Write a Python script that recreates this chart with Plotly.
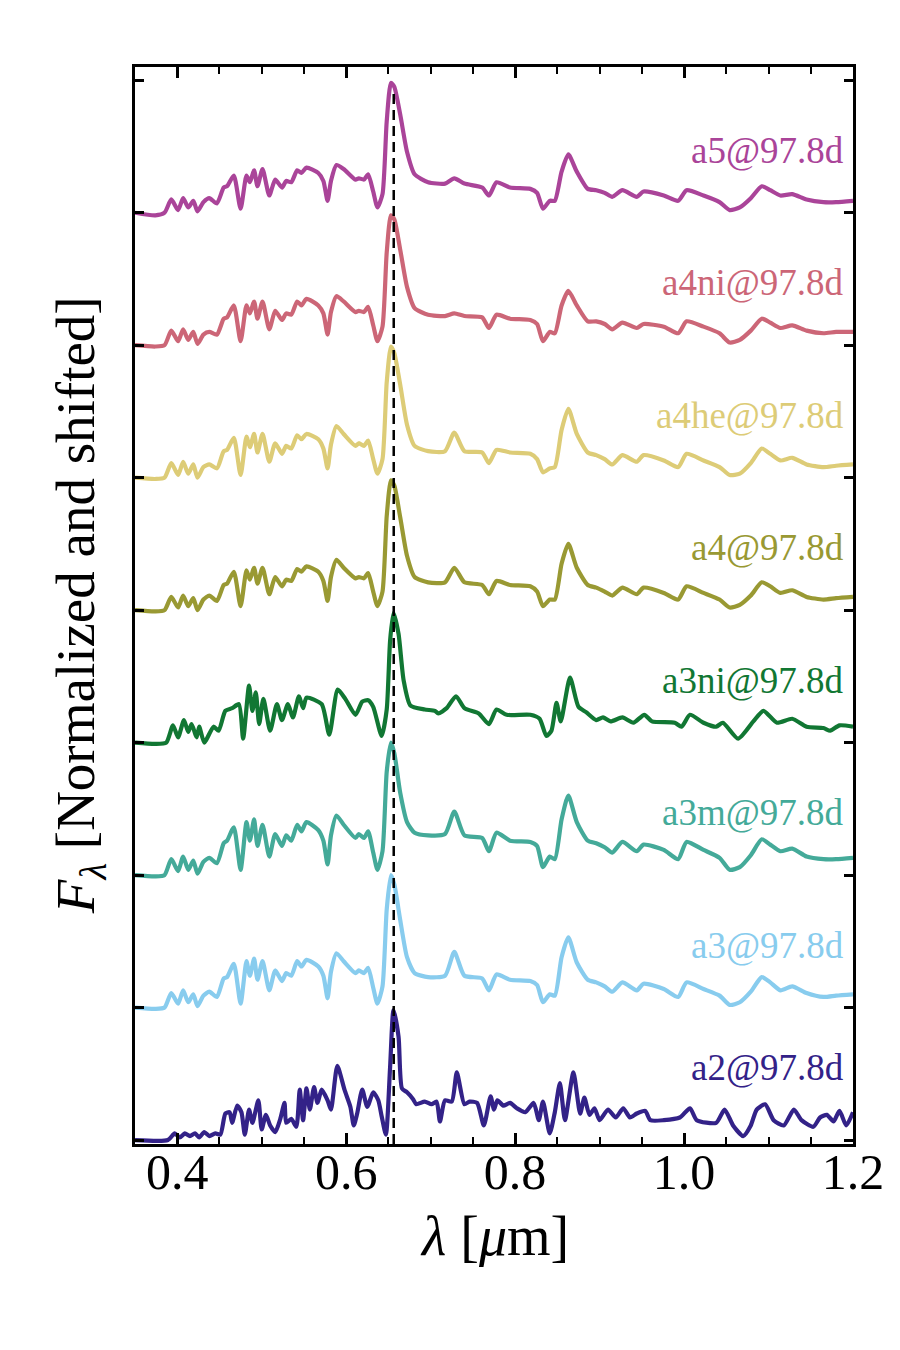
import plotly.graph_objects as go

# ---------------- data ----------------
names = ["a2", "a3", "a3m", "a3ni", "a4", "a4he", "a4ni", "a5"]
colors = ["#332288", "#88CCEE", "#44AA99", "#117733", "#999933", "#DDCC77", "#CC6677", "#AA4499"]
epoch = "97.8d"
halpha = 0.6563

# shared wavelength grid (micron) for the smoother models
lam = [0.350, 0.374, 0.385, 0.393, 0.401, 0.407, 0.413, 0.419, 0.424, 0.431,
       0.438, 0.447, 0.455, 0.459, 0.467, 0.475, 0.482, 0.486, 0.491, 0.495,
       0.501, 0.509, 0.516, 0.524, 0.529, 0.535, 0.542, 0.547, 0.553, 0.567,
       0.573, 0.578, 0.582, 0.5885, 0.597, 0.611, 0.615, 0.621, 0.626, 0.632,
       0.637, 0.643, 0.648, 0.653, 0.657, 0.664, 0.672, 0.681, 0.697, 0.717,
       0.728, 0.740, 0.761, 0.769, 0.778, 0.794, 0.818, 0.826, 0.833, 0.841,
       0.847, 0.855, 0.863, 0.873, 0.886, 0.896, 0.906, 0.915, 0.927, 0.944,
       0.952, 0.976, 0.993, 1.003, 1.023, 1.042, 1.054, 1.066, 1.079, 1.092,
       1.102, 1.114, 1.128, 1.145, 1.165, 1.180, 1.200]

a5 = [0.00, -0.02, 0.00, 0.10, 0.02, 0.11, 0.04, 0.09, 0.01, 0.08,
      0.11, 0.07, 0.19, 0.20, 0.28, 0.03, 0.28, 0.23, 0.32, 0.20,
      0.33, 0.13, 0.25, 0.19, 0.24, 0.23, 0.32, 0.30, 0.34, 0.30,
      0.24, 0.09, 0.24, 0.36, 0.33, 0.25, 0.26, 0.25, 0.29, 0.16,
      0.04, 0.14, 0.69, 0.98, 0.95, 0.74, 0.46, 0.29, 0.23, 0.22,
      0.26, 0.22, 0.19, 0.13, 0.23, 0.19, 0.18, 0.15, 0.03, 0.09,
      0.09, 0.31, 0.44, 0.31, 0.18, 0.17, 0.15, 0.12, 0.17, 0.12,
      0.16, 0.13, 0.09, 0.17, 0.13, 0.08, 0.02, 0.04, 0.11, 0.20,
      0.17, 0.13, 0.14, 0.10, 0.08, 0.08, 0.09]

a4ni = [0.00, -0.01, 0.00, 0.11, 0.03, 0.12, 0.04, 0.10, 0.01, 0.08,
        0.10, 0.08, 0.20, 0.21, 0.30, 0.03, 0.30, 0.24, 0.33, 0.20,
        0.33, 0.12, 0.26, 0.19, 0.24, 0.23, 0.33, 0.30, 0.35, 0.30,
        0.24, 0.08, 0.25, 0.37, 0.33, 0.25, 0.26, 0.25, 0.29, 0.15,
        0.03, 0.14, 0.70, 0.98, 0.95, 0.72, 0.44, 0.28, 0.23, 0.22,
        0.24, 0.22, 0.21, 0.13, 0.23, 0.20, 0.19, 0.16, 0.03, 0.10,
        0.09, 0.30, 0.41, 0.30, 0.18, 0.18, 0.16, 0.12, 0.17, 0.13,
        0.16, 0.14, 0.09, 0.18, 0.14, 0.09, 0.02, 0.04, 0.11, 0.20,
        0.17, 0.13, 0.15, 0.11, 0.09, 0.10, 0.10]

a4he = [0.00, -0.01, 0.00, 0.11, 0.02, 0.12, 0.03, 0.10, 0.00, 0.08,
        0.10, 0.07, 0.20, 0.21, 0.30, 0.02, 0.31, 0.23, 0.33, 0.19,
        0.33, 0.12, 0.26, 0.18, 0.24, 0.22, 0.32, 0.29, 0.33, 0.29,
        0.22, 0.07, 0.25, 0.39, 0.33, 0.24, 0.26, 0.24, 0.28, 0.14,
        0.03, 0.14, 0.72, 0.99, 0.94, 0.70, 0.40, 0.24, 0.20, 0.20,
        0.34, 0.20, 0.19, 0.11, 0.21, 0.19, 0.18, 0.14, 0.04, 0.07,
        0.08, 0.36, 0.52, 0.33, 0.19, 0.17, 0.14, 0.10, 0.17, 0.12,
        0.17, 0.13, 0.08, 0.18, 0.13, 0.08, 0.02, 0.03, 0.11, 0.22,
        0.18, 0.13, 0.15, 0.10, 0.08, 0.09, 0.10]

a4 = [0.00, -0.01, 0.00, 0.10, 0.02, 0.11, 0.03, 0.09, 0.00, 0.08,
      0.11, 0.07, 0.19, 0.20, 0.29, 0.03, 0.30, 0.23, 0.32, 0.20,
      0.32, 0.12, 0.25, 0.18, 0.23, 0.22, 0.31, 0.29, 0.33, 0.29,
      0.22, 0.07, 0.25, 0.38, 0.32, 0.24, 0.25, 0.24, 0.28, 0.14,
      0.03, 0.14, 0.71, 0.98, 0.94, 0.70, 0.41, 0.25, 0.21, 0.21,
      0.32, 0.21, 0.19, 0.12, 0.22, 0.19, 0.18, 0.14, 0.03, 0.08,
      0.08, 0.35, 0.50, 0.32, 0.19, 0.17, 0.14, 0.11, 0.17, 0.12,
      0.17, 0.13, 0.08, 0.18, 0.13, 0.08, 0.02, 0.04, 0.11, 0.21,
      0.18, 0.13, 0.15, 0.10, 0.08, 0.09, 0.10]

a3m = [0.00, -0.01, 0.00, 0.12, 0.03, 0.14, 0.04, 0.11, 0.01, 0.10,
       0.13, 0.09, 0.24, 0.26, 0.36, 0.04, 0.40, 0.26, 0.42, 0.22,
       0.38, 0.14, 0.31, 0.22, 0.30, 0.26, 0.38, 0.33, 0.40, 0.34,
       0.26, 0.08, 0.30, 0.45, 0.38, 0.28, 0.31, 0.28, 0.33, 0.17,
       0.04, 0.18, 0.78, 1.00, 0.92, 0.62, 0.40, 0.32, 0.30, 0.31,
       0.48, 0.30, 0.28, 0.18, 0.32, 0.26, 0.25, 0.22, 0.06, 0.14,
       0.12, 0.42, 0.60, 0.40, 0.26, 0.24, 0.21, 0.17, 0.25, 0.18,
       0.23, 0.19, 0.12, 0.25, 0.19, 0.13, 0.04, 0.06, 0.15, 0.27,
       0.23, 0.18, 0.20, 0.14, 0.12, 0.12, 0.13]

a3 = [0.00, -0.01, 0.00, 0.11, 0.03, 0.13, 0.04, 0.10, 0.01, 0.09,
      0.12, 0.08, 0.22, 0.23, 0.33, 0.03, 0.35, 0.24, 0.37, 0.21,
      0.35, 0.13, 0.28, 0.20, 0.26, 0.24, 0.35, 0.31, 0.36, 0.31,
      0.24, 0.07, 0.27, 0.41, 0.35, 0.26, 0.28, 0.26, 0.30, 0.15,
      0.03, 0.16, 0.74, 1.00, 0.93, 0.66, 0.38, 0.26, 0.23, 0.24,
      0.42, 0.24, 0.22, 0.13, 0.25, 0.21, 0.20, 0.17, 0.04, 0.10,
      0.09, 0.38, 0.53, 0.34, 0.21, 0.19, 0.16, 0.12, 0.19, 0.13,
      0.18, 0.14, 0.08, 0.19, 0.14, 0.09, 0.02, 0.04, 0.12, 0.23,
      0.19, 0.13, 0.16, 0.11, 0.08, 0.09, 0.10]

lam_a3ni = [0.350, 0.374, 0.387, 0.395, 0.401, 0.408, 0.413, 0.417, 0.423, 0.426,
            0.432, 0.443, 0.449, 0.457, 0.465, 0.473, 0.478, 0.485, 0.489, 0.493,
            0.497, 0.502, 0.510, 0.518, 0.524, 0.531, 0.537, 0.544, 0.549, 0.553,
            0.571, 0.580, 0.590, 0.599, 0.611, 0.619, 0.626, 0.632, 0.642, 0.648,
            0.652, 0.656, 0.662, 0.668, 0.676, 0.693, 0.705, 0.709, 0.719, 0.730,
            0.740, 0.757, 0.769, 0.778, 0.790, 0.818, 0.829, 0.837, 0.843, 0.849,
            0.854, 0.865, 0.875, 0.884, 0.896, 0.904, 0.913, 0.927, 0.940, 0.953,
            0.962, 0.989, 0.997, 1.007, 1.023, 1.038, 1.046, 1.064, 1.082, 1.094,
            1.110, 1.128, 1.145, 1.165, 1.173, 1.184, 1.200]

a3ni = [0.00, -0.01, 0.00, 0.13, 0.04, 0.17, 0.08, 0.14, 0.04, 0.12,
        0.00, 0.12, 0.09, 0.24, 0.26, 0.29, 0.03, 0.43, 0.24, 0.38,
        0.14, 0.33, 0.09, 0.29, 0.17, 0.29, 0.19, 0.35, 0.26, 0.34,
        0.29, 0.06, 0.40, 0.33, 0.21, 0.31, 0.32, 0.27, 0.05, 0.25,
        0.77, 0.98, 0.82, 0.47, 0.28, 0.25, 0.24, 0.22, 0.26, 0.35,
        0.26, 0.22, 0.14, 0.25, 0.21, 0.21, 0.18, 0.05, 0.09, 0.30,
        0.16, 0.49, 0.27, 0.23, 0.17, 0.19, 0.16, 0.19, 0.15, 0.21,
        0.16, 0.15, 0.12, 0.21, 0.15, 0.12, 0.15, 0.03, 0.16, 0.24,
        0.15, 0.18, 0.12, 0.11, 0.09, 0.13, 0.12]

lam_a2 = [0.350, 0.389, 0.397, 0.403, 0.409, 0.415, 0.421, 0.426, 0.432, 0.438,
          0.445, 0.451, 0.457, 0.462, 0.465, 0.471, 0.476, 0.480, 0.485, 0.489,
          0.496, 0.500, 0.505, 0.510, 0.516, 0.522, 0.527, 0.529, 0.535, 0.541,
          0.545, 0.549, 0.553, 0.557, 0.562, 0.566, 0.571, 0.578, 0.582, 0.5895,
          0.598, 0.605, 0.609, 0.613, 0.619, 0.625, 0.632, 0.638, 0.642, 0.647,
          0.652, 0.656, 0.662, 0.666, 0.672, 0.679, 0.683, 0.693, 0.701, 0.707,
          0.711, 0.717, 0.725, 0.731, 0.740, 0.746, 0.755, 0.763, 0.771, 0.775,
          0.779, 0.786, 0.794, 0.802, 0.812, 0.822, 0.828, 0.833, 0.841, 0.847,
          0.853, 0.859, 0.869, 0.877, 0.882, 0.888, 0.894, 0.900, 0.910, 0.919,
          0.928, 0.936, 0.944, 0.954, 0.960, 0.976, 0.995, 1.007, 1.015, 1.038,
          1.048, 1.058, 1.070, 1.079, 1.086, 1.096, 1.106, 1.118, 1.130, 1.139,
          1.153, 1.161, 1.169, 1.177, 1.184, 1.192, 1.200]

a2 = [0.00, 0.00, 0.05, 0.02, 0.05, 0.03, 0.05, 0.02, 0.06, 0.03,
      0.05, 0.04, 0.20, 0.21, 0.13, 0.26, 0.21, 0.04, 0.23, 0.13,
      0.30, 0.08, 0.19, 0.11, 0.06, 0.16, 0.28, 0.13, 0.16, 0.10,
      0.38, 0.15, 0.39, 0.23, 0.40, 0.28, 0.38, 0.30, 0.23, 0.56,
      0.38, 0.25, 0.11, 0.20, 0.38, 0.25, 0.36, 0.30, 0.18, 0.04,
      0.55, 0.98, 0.78, 0.39, 0.36, 0.31, 0.27, 0.29, 0.27, 0.29,
      0.14, 0.30, 0.29, 0.51, 0.27, 0.29, 0.28, 0.11, 0.33, 0.23,
      0.30, 0.26, 0.28, 0.24, 0.21, 0.28, 0.15, 0.29, 0.05, 0.21,
      0.43, 0.15, 0.51, 0.20, 0.32, 0.19, 0.24, 0.15, 0.23, 0.17,
      0.24, 0.17, 0.20, 0.22, 0.15, 0.15, 0.17, 0.24, 0.15, 0.13,
      0.23, 0.11, 0.03, 0.11, 0.23, 0.27, 0.15, 0.11, 0.23, 0.15,
      0.10, 0.17, 0.19, 0.14, 0.22, 0.11, 0.21]

series = {
    "a2": (lam_a2, a2), "a3": (lam, a3), "a3m": (lam, a3m), "a3ni": (lam_a3ni, a3ni),
    "a4": (lam, a4), "a4he": (lam, a4he), "a4ni": (lam, a4ni), "a5": (lam, a5),
}

# ---------------- figure ----------------
FONT = "Liberation Serif"
XR = [0.35, 1.2]
YR = [-0.03, 8.1]
fig = go.Figure()

for i, (name, col) in enumerate(zip(names, colors)):
    xs, fl = series[name]
    ys = [v + i for v in fl]
    fig.add_trace(go.Scatter(x=xs, y=ys, mode="lines", name=name,
                             line=dict(color=col, width=4.2, shape="spline", smoothing=0.6),
                             showlegend=False, hoverinfo="skip"))
    ly = i + (0.55 if name == "a2" else 0.47)
    fig.add_annotation(x=1.192, y=ly, xref="x", yref="y", text=f"{name}@{epoch}",
                       showarrow=False, xanchor="right", yanchor="middle",
                       font=dict(family=FONT, size=37, color=col))

# invisible trace so the top tick axis is drawn
fig.add_trace(go.Scatter(x=[0.5], y=[-5], xaxis="x2", yaxis="y", mode="markers",
                         showlegend=False, hoverinfo="skip"))

fig.add_shape(type="line", x0=halpha, x1=halpha, y0=YR[0], y1=7.90, xref="x", yref="y",
              line=dict(color="black", width=2.5, dash="10px,6px"), layer="above")

minor = dict(ticks="inside", dtick=0.05, ticklen=7, tickwidth=2, tickcolor="black")

fig.update_layout(
    width=900, height=1350,
    margin=dict(l=135, r=47, t=67, b=206),
    paper_bgcolor="white", plot_bgcolor="white",
    font=dict(family=FONT, color="black"),
    xaxis=dict(range=XR, showline=True, linecolor="black", linewidth=3, mirror=True,
               showgrid=False, zeroline=False,
               ticks="inside", ticklen=11, tickwidth=3, tickcolor="black",
               tickmode="linear", tick0=0.4, dtick=0.2, tickformat=".1f",
               tickfont=dict(family=FONT, size=50, color="black"), ticklabelstandoff=-18,
               minor=minor),
    xaxis2=dict(range=XR, overlaying="x", side="top", showline=False,
                showgrid=False, zeroline=False,
                ticks="inside", ticklen=11, tickwidth=3, tickcolor="black",
                tickmode="linear", tick0=0.4, dtick=0.2, showticklabels=False,
                minor=minor),
    yaxis=dict(range=YR, showline=True, linecolor="black", linewidth=3, mirror="ticks",
               showgrid=False, zeroline=False,
               ticks="inside", ticklen=9, tickwidth=2.5, tickcolor="black",
               tickmode="linear", tick0=0, dtick=1, showticklabels=False),
)

fig.add_annotation(x=0.5, y=-0.085, xref="paper", yref="paper",
                   text="<i>λ</i> [<i>μ</i>m]", showarrow=False,
                   xanchor="center", yanchor="middle",
                   font=dict(family=FONT, size=56, color="black"))
fig.add_annotation(x=-0.077, y=0.5, xref="paper", yref="paper",
                   text="<i>F</i><sub><i>λ</i></sub> [Normalized and shifted]", showarrow=False,
                   textangle=-90, xanchor="center", yanchor="middle",
                   font=dict(family=FONT, size=55, color="black"))

fig.write_html("out.html")
